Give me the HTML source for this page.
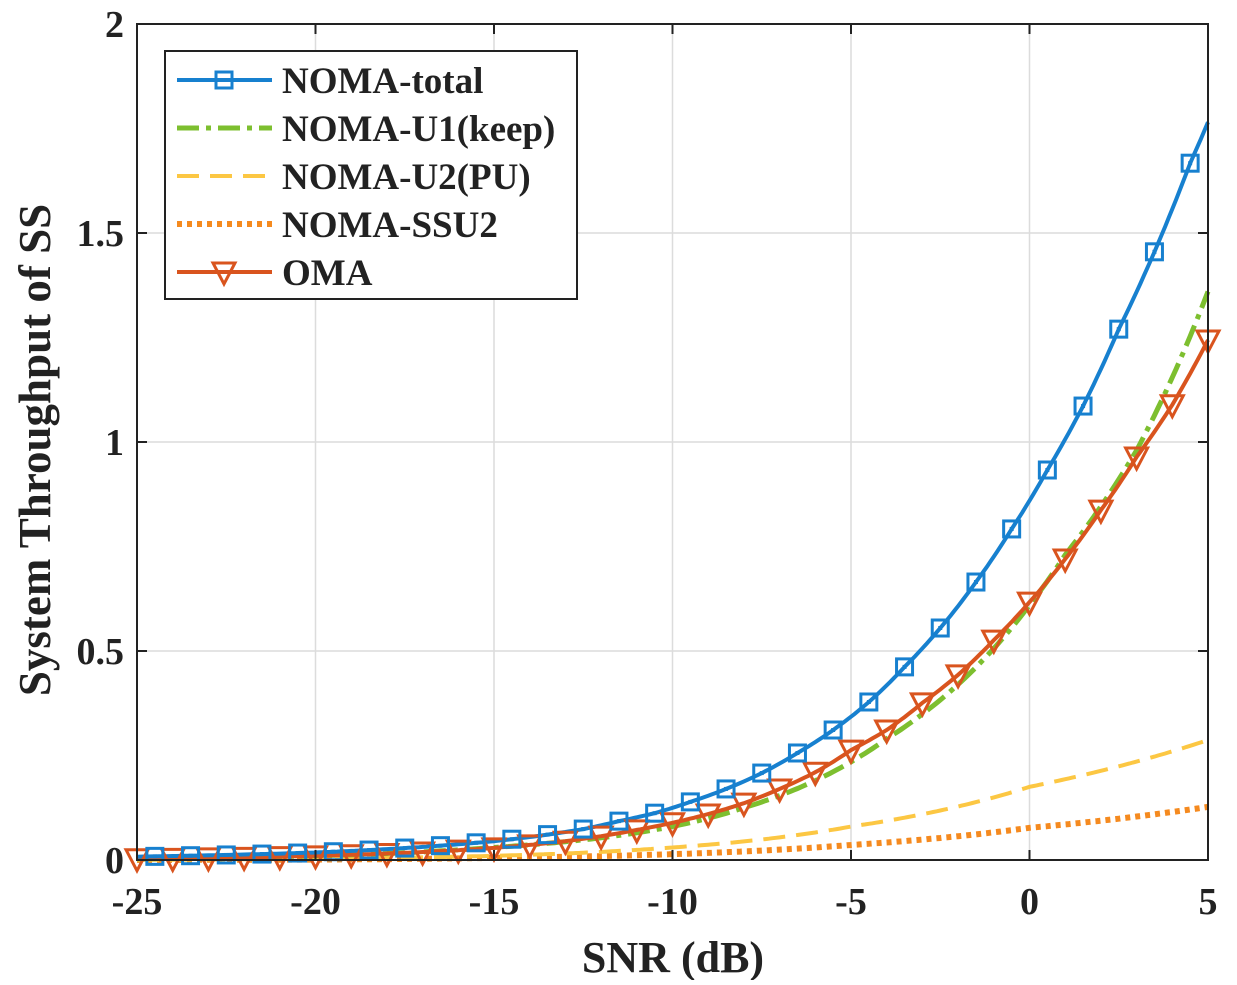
<!DOCTYPE html>
<html><head><meta charset="utf-8"><style>
html,body{margin:0;padding:0;background:#fff;}
text{font-family:"Liberation Serif",serif;font-weight:bold;fill:#222;}
</style></head><body>
<svg id="s" width="1237" height="980" xmlns="http://www.w3.org/2000/svg">
<rect x="0" y="0" width="1237" height="980" fill="#fff"/>
<g id="grid" stroke="#dcdcdc" stroke-width="1.5"></g>
<g id="curves"></g>
<rect x="137" y="24" width="1071" height="836" fill="none" stroke="#222" stroke-width="2"/>
<g id="ticks" stroke="#222" stroke-width="2"></g>
<g id="labels" font-size="38"></g>
<text x="673" y="972" font-size="44" text-anchor="middle">SNR (dB)</text>
<text transform="translate(50,450) rotate(-90)" font-size="45" text-anchor="middle">System Throughput of SS</text>
<g id="legend"></g>
</svg>
<script>
const NS="http://www.w3.org/2000/svg";
const X=v=>137+(v+25)*1071/30, Y=v=>860-v*418;
function el(t,a,p){const e=document.createElementNS(NS,t);for(const k in a)e.setAttribute(k,a[k]);p.appendChild(e);return e;}
const grid=document.getElementById('grid'),ticks=document.getElementById('ticks'),lab=document.getElementById('labels');
[-20,-15,-10,-5,0].forEach(v=>el('line',{x1:X(v),x2:X(v),y1:24,y2:860},grid));
[0.5,1,1.5].forEach(v=>el('line',{x1:137,x2:1208,y1:Y(v),y2:Y(v)},grid));
[-25,-20,-15,-10,-5,0,5].forEach(v=>{el('line',{x1:X(v),x2:X(v),y1:860,y2:850},ticks);el('line',{x1:X(v),x2:X(v),y1:24,y2:34},ticks);
 el('text',{x:X(v),y:914,'text-anchor':'middle'},lab).textContent=String(v);});
[[0,'0'],[0.5,'0.5'],[1,'1'],[1.5,'1.5'],[2,'2']].forEach(([v,t])=>{el('line',{x1:137,x2:147,y1:Y(v),y2:Y(v)},ticks);el('line',{x1:1208,x2:1198,y1:Y(v),y2:Y(v)},ticks);
 el('text',{x:124,y:Y(v)+13,'text-anchor':'end'},lab).textContent=t;});
function interp(pts,x){for(let i=0;i<pts.length-1;i++){const[a,b]=pts[i],[c,d]=pts[i+1];if(x>=a&&x<=c){const la=Math.log(b+1e-3),lc=Math.log(d+1e-3);return Math.exp(la+(lc-la)*(x-a)/(c-a))-1e-3;}}return pts[pts.length-1][1];}
const tot=[[-25,0.008],[-20,0.018],[-15,0.045],[-12.5,0.074],[-11.5,0.093],[-10.5,0.112],[-9.5,0.139],[-8.5,0.17],[-7.5,0.208],[-6.5,0.256],[-5.5,0.311],[-4.5,0.378],[-3.5,0.462],[-2.5,0.555],[-1.5,0.665],[-0.5,0.792],[0.5,0.933],[1.5,1.086],[2.5,1.27],[3.5,1.455],[4.5,1.667],[5,1.765]];
const oma=[[-25,0.003],[-20,0.01],[-15,0.029],[-13,0.045],[-12,0.057],[-11,0.072],[-10,0.089],[-9,0.11],[-8,0.136],[-7,0.17],[-6,0.21],[-5,0.263],[-4,0.311],[-3,0.376],[-2,0.443],[-1,0.526],[0,0.617],[1,0.72],[2,0.837],[3,0.964],[4,1.089],[5,1.244]];
const u1=[[-25,0.003],[-20,0.01],[-15,0.03],[-12,0.053],[-10,0.08],[-8,0.125],[-6,0.19],[-4,0.29],[-2,0.42],[0,0.61],[1,0.73],[3,0.98],[5,1.36]];
const u2=[[-25,0.0005],[-20,0.003],[-15,0.01],[-10,0.03],[-5,0.08],[0,0.175],[5,0.287]];
const ss=[[-25,0.0002],[-20,0.001],[-15,0.005],[-10,0.014],[-5,0.036],[0,0.077],[5,0.127]];
const cv=document.getElementById('curves');
function path(pts,attrs){let d='';for(let x=-25;x<=5.001;x+=0.1){d+=(d?'L':'M')+X(x).toFixed(1)+','+Y(interp(pts,x)).toFixed(1);}attrs.d=d;attrs.fill='none';el('path',attrs,cv);}
path(ss,{stroke:'#f58a1f','stroke-width':6,'stroke-dasharray':'5 5'});
path(u2,{stroke:'#fcc743','stroke-width':4,'stroke-dasharray':'22 11'});
path(u1,{stroke:'#7dbf2f','stroke-width':5,'stroke-dasharray':'22 7 5 7'});
path(oma,{stroke:'#d9541e','stroke-width':4});
path(tot,{stroke:'#1780cf','stroke-width':4});
function tri(x,y,p){el('path',{d:`M${x-11},${y-9}L${x+11},${y-9}L${x},${y+12}Z`,fill:'none',stroke:'#d9541e','stroke-width':3},p);}
function sq(x,y,p){el('rect',{x:x-8,y:y-8,width:16,height:16,fill:'none',stroke:'#1780cf','stroke-width':3},p);el('rect',{x:x-2,y:y-2,width:4,height:4,fill:'#1780cf'},p);}
for(let v=-25;v<=5;v++)tri(X(v),Y(interp(oma,v)),cv);
for(let v=-24.5;v<=5;v++)sq(X(v),Y(interp(tot,v)),cv);
const lg=document.getElementById('legend');
el('rect',{x:165,y:51,width:412,height:248,fill:'#fff',stroke:'#222','stroke-width':2},lg);
const items=[['NOMA-total',{stroke:'#1780cf','stroke-width':4},'sq'],['NOMA-U1(keep)',{stroke:'#7dbf2f','stroke-width':5,'stroke-dasharray':'22 7 5 7'}],['NOMA-U2(PU)',{stroke:'#fcc743','stroke-width':4,'stroke-dasharray':'22 11'}],['NOMA-SSU2',{stroke:'#f58a1f','stroke-width':6,'stroke-dasharray':'5 5'}],['OMA',{stroke:'#d9541e','stroke-width':4},'tri']];
items.forEach(([t,a,m],i)=>{const y=80+i*48;a.x1=177;a.x2=272;a.y1=y;a.y2=y;el('line',a,lg);
 if(m==='sq')sq(224,y,lg);if(m==='tri')tri(224,y,lg);
 el('text',{x:282,y:y+13,'font-size':37},lg).textContent=t;});
</script>
</body></html>
